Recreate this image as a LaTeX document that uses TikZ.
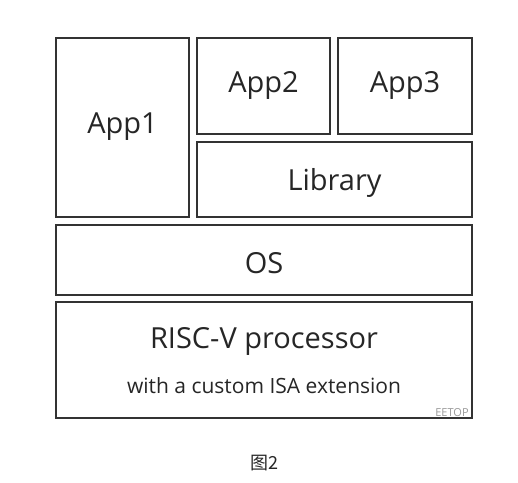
\documentclass[tikz,border=0pt]{standalone}
\usepackage{fontspec}
\setmainfont{Open Sans}
\newfontfamily\cjk{Noto Sans CJK SC}
\begin{document}
\begin{tikzpicture}[x=1pt,y=-1pt,
  layer/.style={draw=black!80, line width=1.3pt},
  big/.style={font=\fontsize{29}{33}\selectfont, text=black!85},
  small/.style={font=\fontsize{21}{25}\selectfont, text=black!85}]
\useasboundingbox[fill=white] (0,0) rectangle (518,482);
\draw[layer] (56,38) rectangle (189,217);
\draw[layer] (197,38) rectangle (330,134);
\draw[layer] (338,38) rectangle (472,134);
\draw[layer] (197,142) rectangle (472,217);
\draw[layer] (56,225) rectangle (472,295);
\draw[layer] (56,302) rectangle (472,418);
\node[big] (app1) at (122.5,127) {App1};
\node[big] (app2) at (263.5,85) {App2};
\node[big] (app3) at (405,85) {App3};
\node[big] (lib) at (334.5,183) {Library};
\node[big] (os) at (264,263) {OS};
\node[big] (risc) at (264,341) {RISC-V processor};
\node[small] (ext) at (264,386) {with a custom ISA extension};
\node[font=\fontsize{11}{13}\selectfont, text=black!40] (wm) at (452,413) {EETOP};
\node[font=\cjk\fontsize{18}{22}\selectfont, text=black!85] (cap) at (264,463) {图2};
\end{tikzpicture}
\end{document}
